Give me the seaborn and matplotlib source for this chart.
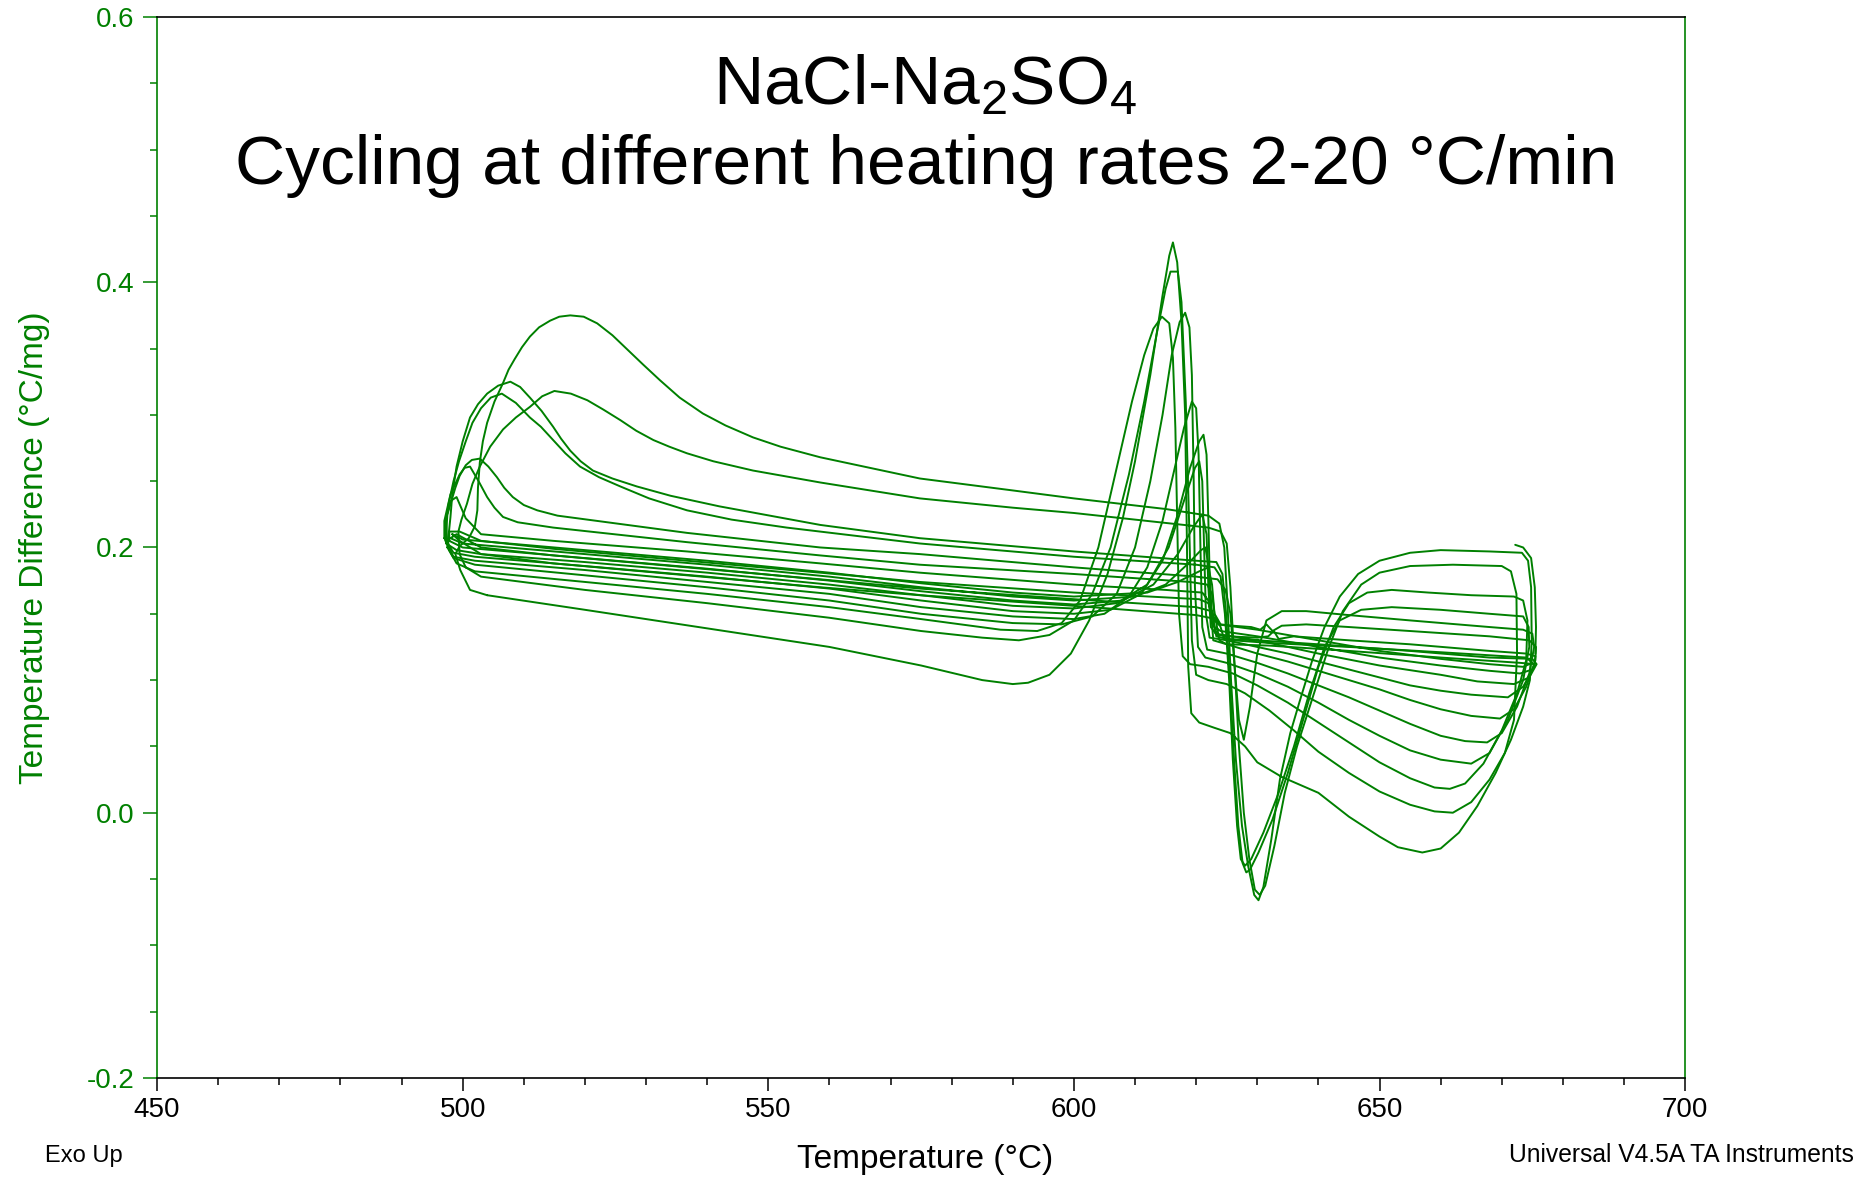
import numpy as np
import pandas as pd
import matplotlib
matplotlib.use("Agg")
import matplotlib.pyplot as plt
from matplotlib.ticker import MultipleLocator
import seaborn as sns

# DSC cycling traces: (temperature degC, temperature difference degC/mg)
cycle1 = [(504, 0.164), (520, 0.153), (540, 0.139), (560, 0.125), (575, 0.111), (585, 0.1), (590, 0.097),
          (592.5, 0.098), (596, 0.104), (599.5, 0.12), (602.5, 0.145), (605.5, 0.18), (608, 0.222),
          (610, 0.265), (612.5, 0.33), (614.5, 0.39), (615.6, 0.42), (616.2, 0.43), (616.9, 0.415),
          (617.6, 0.37), (618.2, 0.3),
          (618.5, 0.2), (618.7, 0.11), (619.2, 0.075), (620.5, 0.068), (623, 0.064), (625.6, 0.06),
          (628, 0.05), (630, 0.038), (634, 0.027), (640, 0.015), (645, -0.003), (650, -0.018),
          (653, -0.026), (657, -0.03), (660, -0.027), (663, -0.015), (666, 0.005), (669, 0.03),
          (671.5, 0.055), (673.5, 0.08), (674.6, 0.1), (674.9, 0.13), (674.8, 0.17), (674.3, 0.19),
          (673.3, 0.196), (668, 0.197), (660, 0.198), (655, 0.196), (650, 0.19), (646.5, 0.18),
          (643.5, 0.163), (641, 0.14), (639, 0.115), (637, 0.085), (635.4, 0.06), (633.7, 0.025),
          (632.3, -0.02), (631, -0.056), (630.2, -0.066), (629.5, -0.062), (628.5, -0.04),
          (627.5, -0.01), (626.5, 0.04), (625.7, 0.1), (625.1, 0.16), (624.6, 0.2), (623.8, 0.218),
          (622, 0.224), (615, 0.229), (600, 0.237), (590, 0.243), (574.8, 0.252), (558.5, 0.268),
          (552, 0.276), (547.5, 0.283), (543, 0.292), (539.3, 0.301), (535.5, 0.313), (532.3, 0.326),
          (529.5, 0.338), (527, 0.349), (524.5, 0.36), (522, 0.369), (519.8, 0.374), (517.6, 0.375),
          (515.8, 0.374), (514.3, 0.371), (512.5, 0.366), (511, 0.359), (509.7, 0.351), (508.5, 0.342),
          (507.5, 0.334), (506.6, 0.324), (505.2, 0.31), (504, 0.294), (503.3, 0.28), (502.8, 0.264),
          (502.5, 0.245), (502.4, 0.228), (502, 0.216), (501, 0.207), (499.5, 0.201), (498.8, 0.195),
          (499.6, 0.183), (501.2, 0.168), (504, 0.164)]

cycle2 = [(500.5, 0.185), (503, 0.178), (520, 0.168), (540, 0.158), (560, 0.147), (575, 0.137),
          (585, 0.132), (591, 0.13), (596, 0.134), (600, 0.145), (603, 0.165), (606, 0.2), (609, 0.255),
          (611.5, 0.31), (613.5, 0.36), (615, 0.395), (615.8, 0.408), (617, 0.408), (617.6, 0.385),
          (618.3, 0.31), (618.9, 0.21), (619.3, 0.13), (620, 0.104), (622, 0.1), (625, 0.097),
          (628, 0.09), (632, 0.077), (636, 0.062), (640, 0.046), (645, 0.03), (650, 0.016),
          (655, 0.006), (659, 0.001), (662, 0.0), (665, 0.008), (668, 0.025), (670.5, 0.045),
          (672, 0.07), (672.5, 0.12), (672.4, 0.165), (671.5, 0.182), (670, 0.186), (662, 0.187),
          (655, 0.186), (650, 0.181), (647, 0.172), (644, 0.152), (641.5, 0.122), (639, 0.086),
          (636.5, 0.05), (634.5, 0.015), (632.8, -0.025), (631.3, -0.055), (630.4, -0.062),
          (629.6, -0.058), (628.7, -0.035), (627.8, 0.0), (627, 0.05), (626.3, 0.11), (625.6, 0.17),
          (625, 0.203), (624, 0.212), (622, 0.215), (610, 0.221), (600, 0.226), (590, 0.23),
          (574.8, 0.237), (558.5, 0.249), (547.5, 0.258), (541, 0.265), (536.7, 0.271), (533.8, 0.276),
          (531.2, 0.281), (528.4, 0.288), (525.8, 0.296), (523, 0.304), (520.4, 0.311), (517.7, 0.316),
          (515, 0.318), (513, 0.314), (511, 0.306), (508.7, 0.298), (506.6, 0.289), (504.5, 0.276),
          (502.8, 0.261), (501.6, 0.248), (500.7, 0.233), (499.8, 0.221), (499.3, 0.212),
          (499.5, 0.195), (500.5, 0.185)]

cycle3 = [(497.8, 0.198), (499, 0.188), (502, 0.182), (520, 0.174), (540, 0.165), (560, 0.155),
          (575, 0.146), (588, 0.138), (594, 0.137), (598, 0.143), (601, 0.16), (604, 0.2), (607, 0.26),
          (609.5, 0.31), (611.5, 0.345), (613, 0.365), (614.4, 0.374), (615.6, 0.369), (616.2, 0.343),
          (616.6, 0.29), (616.9, 0.22), (617.2, 0.15), (617.8, 0.118), (619, 0.112), (622, 0.11),
          (626, 0.105), (630, 0.096), (635, 0.083), (640, 0.068), (645, 0.053), (650, 0.038),
          (655, 0.026), (659, 0.019), (661.5, 0.018), (664, 0.022), (667, 0.037), (670, 0.062),
          (672.5, 0.09), (674, 0.115), (674.2, 0.145), (673.5, 0.16), (672, 0.163), (665, 0.164),
          (658, 0.166), (652, 0.168), (648, 0.166), (645, 0.158), (642.5, 0.14), (640, 0.11),
          (637.5, 0.07), (635, 0.03), (632.5, -0.005), (630.2, -0.03), (628.8, -0.043),
          (628.2, -0.045), (627.6, -0.038), (626.9, -0.01), (626.2, 0.04), (625.5, 0.1),
          (624.9, 0.15), (624.3, 0.18), (623.3, 0.189), (620, 0.19), (600, 0.197), (574.8, 0.207),
          (558.5, 0.217), (542, 0.231), (534, 0.239), (528.5, 0.246), (524.5, 0.252), (521.3, 0.258),
          (519.3, 0.265), (517.6, 0.273), (516.1, 0.282), (514.8, 0.291), (512.9, 0.303), (511, 0.313),
          (509.4, 0.321), (507.8, 0.325), (505.8, 0.322), (504, 0.316), (502.5, 0.308), (501.2, 0.298),
          (500, 0.28), (499, 0.261), (498.3, 0.24), (498, 0.223), (497.6, 0.205), (497.8, 0.198)]

cycle4 = [(497.5, 0.2), (498.5, 0.192), (502, 0.187), (520, 0.179), (540, 0.17), (560, 0.16),
          (575, 0.15), (590, 0.143), (598, 0.142), (603, 0.148), (607, 0.165), (610, 0.2),
          (612.5, 0.25), (614.5, 0.3), (616, 0.345), (617.3, 0.37), (618.2, 0.377), (618.9, 0.366),
          (619.3, 0.33), (619.6, 0.25), (619.8, 0.17), (620.3, 0.125), (621.5, 0.117), (625, 0.113),
          (630, 0.105), (635, 0.095), (640, 0.083), (645, 0.07), (650, 0.058), (655, 0.047),
          (660, 0.04), (665, 0.037), (668, 0.045), (671, 0.07), (673.5, 0.1), (674.5, 0.125),
          (674.4, 0.14), (673.5, 0.148), (668, 0.15), (660, 0.153), (652, 0.155), (647, 0.153),
          (643.5, 0.145), (641, 0.125), (638.5, 0.09), (636, 0.05), (633.5, 0.015), (631, -0.015),
          (629, -0.035), (628, -0.04), (627.3, -0.035), (626.7, -0.01), (626, 0.04), (625.4, 0.1),
          (624.7, 0.15), (624, 0.178), (623, 0.185), (620, 0.187), (600, 0.193), (574.8, 0.203),
          (553, 0.215), (544, 0.221), (536.7, 0.228), (530.5, 0.237), (525.8, 0.246), (522.3, 0.253),
          (519.2, 0.261), (516.8, 0.271), (514.8, 0.281), (512.8, 0.291), (511, 0.298), (508.7, 0.309),
          (506.4, 0.316), (504.6, 0.313), (503, 0.305), (501.6, 0.294), (500.5, 0.28), (499.4, 0.265),
          (498.5, 0.25), (497.7, 0.233), (497.3, 0.22), (497.5, 0.2)]

cycle5 = [(497.2, 0.205), (498.5, 0.193), (502, 0.19), (520, 0.183), (540, 0.174), (560, 0.165),
          (575, 0.155), (590, 0.148), (600, 0.146), (605, 0.15), (609, 0.163), (612, 0.185),
          (614.5, 0.22), (616.5, 0.26), (618, 0.29), (619.3, 0.31), (620, 0.305), (620.4, 0.27),
          (620.7, 0.2), (621, 0.14), (621.8, 0.123), (625, 0.12), (630, 0.113), (635, 0.105),
          (640, 0.096), (645, 0.087), (650, 0.077), (655, 0.067), (660, 0.058), (664, 0.054),
          (667.6, 0.053), (670, 0.06), (672.5, 0.08), (674.5, 0.105), (675.3, 0.125), (675, 0.135),
          (673.5, 0.138), (668, 0.14), (655, 0.145), (645, 0.149), (638, 0.152), (634, 0.152),
          (631.5, 0.145), (630, 0.12), (628.8, 0.08), (627.8, 0.055), (627, 0.07), (626.3, 0.11),
          (625.6, 0.15), (624.8, 0.168), (623.5, 0.176), (620, 0.178), (600, 0.185), (574.8, 0.195),
          (558.5, 0.2), (536.7, 0.211), (520.4, 0.221), (515.5, 0.224), (512.2, 0.228), (510, 0.232),
          (508.2, 0.238), (506.8, 0.245), (505.6, 0.253), (504.2, 0.261), (502.8, 0.267),
          (501.5, 0.266), (500.5, 0.262), (499.5, 0.254), (498.8, 0.245), (497.5, 0.225),
          (497.2, 0.205)]

cycle6 = [(497, 0.207), (498.5, 0.196), (502, 0.193), (520, 0.186), (540, 0.178), (560, 0.169),
          (575, 0.16), (590, 0.152), (600, 0.15), (606, 0.153), (611, 0.165), (614.5, 0.19),
          (617, 0.225), (619, 0.26), (620.5, 0.28), (621.2, 0.285), (621.7, 0.27), (622, 0.22),
          (622.3, 0.16), (622.8, 0.13), (625, 0.127), (630, 0.12), (635, 0.114), (640, 0.107),
          (645, 0.1), (650, 0.093), (655, 0.085), (660, 0.078), (665, 0.073), (669.7, 0.071),
          (672, 0.078), (674, 0.095), (675.5, 0.115), (675.6, 0.125), (674.5, 0.13), (668, 0.133),
          (655, 0.137), (645, 0.14), (638, 0.142), (634, 0.141), (632.5, 0.137), (631.5, 0.142),
          (630.5, 0.138), (629, 0.14), (626, 0.141), (624, 0.142), (623, 0.15), (622.6, 0.165),
          (621.8, 0.172), (619, 0.174), (600, 0.18), (574.8, 0.187), (558.5, 0.194), (536.7, 0.204),
          (514.8, 0.215), (509, 0.219), (506.6, 0.223), (505.2, 0.23), (504, 0.238), (502.6, 0.25),
          (501.2, 0.261), (500.3, 0.26), (499.5, 0.255), (498, 0.24), (497, 0.22), (497, 0.207)]

cycle7 = [(497.3, 0.203), (499, 0.198), (503, 0.195), (520, 0.189), (540, 0.181), (560, 0.172),
          (575, 0.164), (590, 0.156), (600, 0.154), (607, 0.158), (612, 0.172), (615.5, 0.2),
          (618, 0.235), (619.8, 0.26), (620.5, 0.265), (621, 0.25), (621.3, 0.2), (621.6, 0.15),
          (622.2, 0.132), (625, 0.13), (630, 0.125), (635, 0.12), (640, 0.114), (645, 0.108),
          (650, 0.102), (655, 0.096), (660, 0.092), (665, 0.089), (671, 0.087), (673.5, 0.095),
          (675.3, 0.11), (675.5, 0.118), (674, 0.12), (668, 0.122), (655, 0.127), (645, 0.13),
          (636, 0.133), (633.5, 0.131), (632.7, 0.137), (631.8, 0.133), (630, 0.132), (625, 0.133),
          (623.5, 0.134), (622.5, 0.145), (622, 0.16), (621, 0.166), (615, 0.168), (600, 0.172),
          (574.8, 0.181), (558.5, 0.188), (536.7, 0.197), (514.8, 0.205), (503, 0.21),
          (500.5, 0.222), (499, 0.238), (498, 0.235), (497.2, 0.22), (497.3, 0.203)]

cycle8 = [(497.8, 0.205), (500, 0.2), (520, 0.192), (540, 0.184), (560, 0.175), (575, 0.167),
          (590, 0.16), (600, 0.157), (608, 0.16), (613, 0.172), (617, 0.195), (619.5, 0.215),
          (621, 0.225), (621.7, 0.21), (622, 0.17), (622.4, 0.14), (623.2, 0.135), (630, 0.13),
          (640, 0.12), (650, 0.111), (660, 0.104), (666, 0.099), (672, 0.097), (674.5, 0.102),
          (675.7, 0.112), (675, 0.116), (668, 0.117), (655, 0.122), (640, 0.127), (630, 0.13),
          (625, 0.131), (623.3, 0.133), (622.7, 0.148), (622, 0.158), (620.5, 0.161), (600, 0.166),
          (574.8, 0.174), (558.5, 0.181), (536.7, 0.19), (514.8, 0.199), (503, 0.205),
          (499.5, 0.212), (497.8, 0.212), (497.8, 0.205)]

cycle9 = [(498, 0.207), (500, 0.203), (520, 0.195), (540, 0.187), (560, 0.178), (575, 0.17),
          (590, 0.163), (600, 0.16), (610, 0.163), (615, 0.172), (618.5, 0.187), (620.8, 0.198),
          (621.5, 0.2), (622.1, 0.185), (622.5, 0.155), (623, 0.14), (624, 0.137), (630, 0.133),
          (640, 0.125), (650, 0.117), (660, 0.111), (668, 0.107), (673, 0.105), (675, 0.108),
          (675.4, 0.112), (673, 0.113), (660, 0.117), (645, 0.122), (632, 0.126), (625, 0.127),
          (623.8, 0.13), (623.3, 0.143), (622.5, 0.152), (620, 0.155), (600, 0.161), (574.8, 0.169),
          (558.5, 0.176), (536.7, 0.185), (514.8, 0.194), (503, 0.2), (499, 0.21), (498, 0.207)]

cycle10 = [(498.3, 0.21), (500, 0.206), (520, 0.198), (540, 0.19), (560, 0.181), (575, 0.173),
           (590, 0.166), (600, 0.163), (612, 0.166), (617, 0.174), (620.5, 0.182), (622, 0.185),
           (622.6, 0.172), (623, 0.15), (623.6, 0.142), (630, 0.138), (640, 0.13), (650, 0.122),
           (660, 0.116), (668, 0.112), (673.5, 0.11), (675, 0.113), (674, 0.117), (660, 0.121),
           (645, 0.125), (632, 0.128), (626, 0.13), (624.5, 0.132), (624, 0.14), (623.3, 0.146),
           (620, 0.149), (600, 0.156), (574.8, 0.164), (558.5, 0.17), (536.7, 0.179), (514.8, 0.188),
           (503, 0.195), (499.5, 0.205), (498.3, 0.21)]

# start of the run, top right corner
run_start = [(672.2, 0.202), (673.5, 0.2), (674.8, 0.192), (675.4, 0.17), (675.6, 0.14), (675.5, 0.12)]

x_ticks = [450, 500, 550, 600, 650, 700]
y_ticks = [-0.2, 0.0, 0.2, 0.4, 0.6]

green = "#008000"

sns.set_theme(style="white")
plt.rcParams["font.family"] = ["Liberation Sans", "DejaVu Sans"]
plt.rcParams["mathtext.default"] = "regular"
plt.rcParams["axes.unicode_minus"] = False
plt.rcParams["text.color"] = "black"

# one long table, one unit per cycle
frames = []
for name, pts in [("c1", cycle1), ("c2", cycle2), ("c3", cycle3), ("c4", cycle4), ("c5", cycle5),
                  ("c6", cycle6), ("c7", cycle7), ("c8", cycle8), ("c9", cycle9), ("c10", cycle10),
                  ("start", run_start)]:
    arr = np.array(pts)
    frames.append(pd.DataFrame({"temp": arr[:, 0], "dT": arr[:, 1], "cycle": name}))
df = pd.concat(frames, ignore_index=True)

fig = plt.figure(figsize=(18.61, 11.79), dpi=100)
ax = fig.add_axes([0.0844, 0.0857, 0.8211, 0.8999])

sns.lineplot(data=df, x="temp", y="dT", units="cycle", estimator=None, sort=False,
             color=green, linewidth=1.4, ax=ax, legend=False)

ax.set_xlim(450, 700)
ax.set_ylim(-0.2, 0.6)
ax.set_xticks(x_ticks)
ax.set_yticks(y_ticks)
ax.set_yticklabels([f"{t:.1f}" for t in y_ticks])
ax.xaxis.set_minor_locator(MultipleLocator(10))
ax.yaxis.set_minor_locator(MultipleLocator(0.05))

ax.tick_params(axis="x", which="both", direction="out", bottom=True, top=False, colors="black",
               labelsize=20, pad=5)
ax.tick_params(axis="x", which="major", length=9, width=1.1)
ax.tick_params(axis="x", which="minor", length=5, width=1.1)
ax.tick_params(axis="y", which="both", direction="out", left=True, right=False, colors=green,
               labelsize=20, pad=6)
ax.tick_params(axis="y", which="major", length=10, width=1.1)
ax.tick_params(axis="y", which="minor", length=5, width=1.1)

for side in ["left", "right"]:
    ax.spines[side].set_color(green)
    ax.spines[side].set_linewidth(1.2)
for side in ["top", "bottom"]:
    ax.spines[side].set_color("black")
    ax.spines[side].set_linewidth(1.2)

ax.set_xlabel("")
ax.set_ylabel("Temperature Difference (°C/mg)", fontsize=24, color=green)
ax.yaxis.set_label_coords(-0.07, 0.5)

fig.text(0.497, 0.0093, "Temperature (°C)", fontsize=24, ha="center", va="baseline", color="black")
fig.text(0.0242, 0.0144, "Exo Up", fontsize=17, ha="left", va="baseline", color="black")
fig.text(0.9962, 0.0144, "Universal V4.5A TA Instruments", fontsize=17.7, ha="right", va="baseline",
         color="black")

ax.text(0.503, 0.918, "NaCl-Na$_2$SO$_4$", transform=ax.transAxes, fontsize=50,
        ha="center", va="baseline", color="black")
ax.text(0.503, 0.8426, "Cycling at different heating rates 2-20 °C/min", transform=ax.transAxes,
        fontsize=50, ha="center", va="baseline", color="black")

fig.savefig("out.png", dpi=100, facecolor="white")
